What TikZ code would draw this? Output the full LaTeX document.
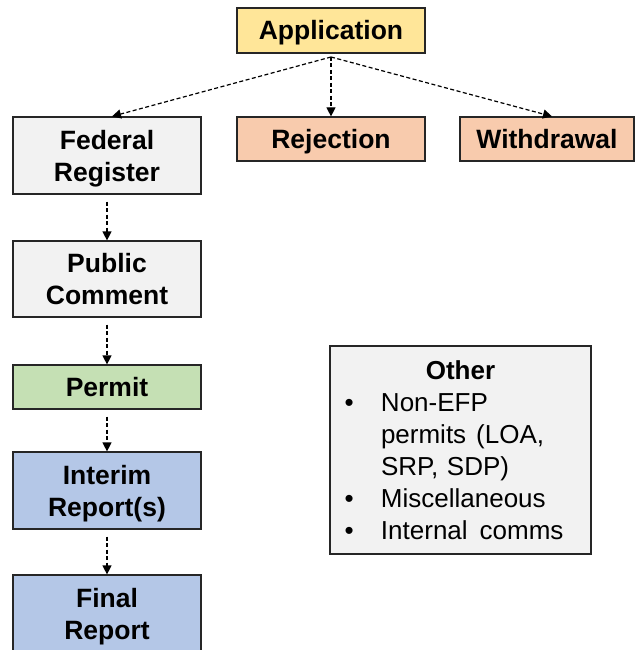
\documentclass[tikz,border=0pt]{standalone}
\usepackage{fontspec}
\setmainfont{Liberation Sans}
\usetikzlibrary{arrows.meta}

\definecolor{appfill}{HTML}{FFE699}
\definecolor{endfill}{HTML}{F8CBAD}
\definecolor{greyfill}{HTML}{F2F2F2}
\definecolor{permitfill}{HTML}{C5E0B4}
\definecolor{reportfill}{HTML}{B4C7E7}
\definecolor{edge}{HTML}{262626}

\tikzset{
	stage/.style={draw=edge, line width=1.2pt, minimum width=188pt, inner sep=0pt,
		align=center, font=\fontsize{26.5}{32}\selectfont\bfseries},
	oneline/.style={stage, text height=19pt, text depth=0pt},
	twoline/.style={stage, text height=51pt, text depth=0pt},
	flow/.style={-{Triangle[length=9pt,width=9pt]}, dash pattern=on 4pt off 2.5pt, line width=1.2pt, draw=black}
}

\begin{document}
\begin{tikzpicture}[x=1pt,y=-1pt]
	\useasboundingbox (0,0) rectangle (636,650);
	\node [oneline, fill=appfill, minimum height=45pt] (app) at (331,30.5)
		{Application};
	\node [twoline, fill=greyfill, minimum height=77pt] (fed) at (107,155.5)
		{Federal\\Register};
	\node [oneline, fill=endfill, minimum height=44pt] (rej) at (331,139)
		{Rejection};
	\node [oneline, fill=endfill, minimum height=44pt, minimum width=174pt] (wd) at (547,139)
		{Withdrawal};
	\node [twoline, fill=greyfill, minimum height=76pt] (pub) at (107,279)
		{Public\\Comment};
	\node [oneline, fill=permitfill, minimum height=44pt] (permit) at (107,387)
		{Permit};
	\node [twoline, fill=reportfill, minimum height=77pt] (interim) at (107,490.5)
		{Interim\\Report(s)};
	\node [twoline, fill=reportfill, minimum height=77pt] (final) at (107,613.5)
		{Final\\Report};
	\node [draw=edge, line width=1.2pt, fill=greyfill, text width=240pt, inner xsep=10.5pt,
		minimum height=208pt, align=left, font=\fontsize{26}{32}\selectfont] (other) at (460.5,450)
		{\makebox[240pt]{\bfseries Other}\\
		  \makebox[40.5pt][l]{\hspace{4pt}•}Non-EFP\\
		  \hspace*{40.5pt}permits\hspace{10pt}(LOA,\\
		  \hspace*{40.5pt}SRP, SDP)\\
		  \makebox[40.5pt][l]{\hspace{4pt}•}Miscellaneous\\
		  \makebox[40.5pt][l]{\hspace{4pt}•}Internal\hspace{12pt}comms};
	\coordinate (split) at (331,57);
	\draw [flow] (split) to ([xshift=5pt]fed.north);
	\draw [flow] (split) to (rej.north);
	\draw [flow] (split) to ([xshift=5pt]wd.north);
	\draw [flow] ([yshift=-7pt]fed.south) to (pub.north);
	\draw [flow] ([yshift=-7pt]pub.south) to (permit.north);
	\draw [flow] ([yshift=-7pt]permit.south) to (interim.north);
	\draw [flow] ([yshift=-7pt]interim.south) to (final.north);
\end{tikzpicture}
\end{document}
